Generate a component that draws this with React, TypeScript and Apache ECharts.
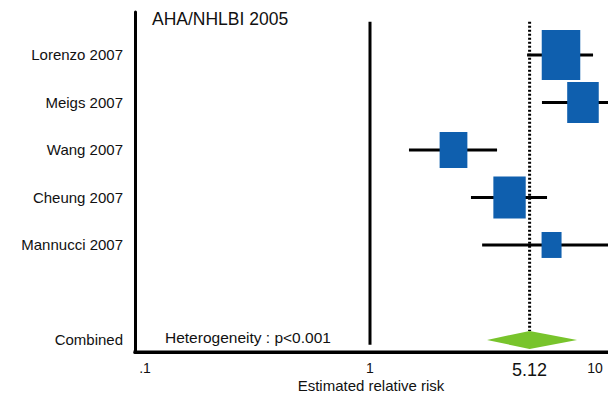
import React, { useEffect, useRef } from "react";
import * as echarts from "echarts";

const titleText = "AHA/NHLBI 2005";
const studies = ["Lorenzo 2007", "Meigs 2007", "Wang 2007", "Cheung 2007", "Mannucci 2007"];
const estimates = [7.06, 8.84, 2.35, 4.17, 6.41];
const lowerCI = [4.99, 5.81, 1.49, 2.81, 3.15];
const upperCI = [9.8, 13, 3.67, 6.12, 14];
const weights = [31.6, 21.2, 16.4, 22.3, 8.5];
const combinedLabel = "Combined";
const combinedEstimate = 5.12;
const combinedLower = 3.31;
const combinedUpper = 8.32;
const heterogeneityText = "Heterogeneity : p<0.001";
const xTickValues = [0.1, 1, 5.12, 10];
const xTickLabels = [".1", "1", "5.12", "10"];
const xAxisTitle = "Estimated relative risk";
const nullValue = 1;

const COMBINED_ROW = 6;
const FONT = "'Liberation Sans', Arial, sans-serif";

export default function App() {
  const ref = useRef<HTMLDivElement>(null);
  useEffect(() => {
    if (!ref.current) return;
    const chart = echarts.init(ref.current, null, { renderer: "svg" });
    const rowLabels: Record<number, string> = {};
    studies.forEach((s, i) => (rowLabels[i] = s));
    rowLabels[COMBINED_ROW] = combinedLabel;

    const studyData = studies.map((_, i) => [estimates[i], lowerCI[i], upperCI[i], weights[i], i]);

    const option: any = {
      animation: false,
      textStyle: { fontFamily: FONT },
      grid: { left: 135, right: 0, top: 12, bottom: 42 },
      xAxis: {
        type: "log",
        logBase: 10,
        min: 0.0903,
        max: 11.42,
        splitLine: { show: false },
        axisTick: { show: false },
        axisLine: { show: true, onZero: false, lineStyle: { color: "#000", width: 3 } },
        axisLabel: {
          customValues: xTickValues,
          margin: 9,
          color: "#111",
          fontSize: 14,
          fontFamily: FONT,
          formatter: (v: number) => {
            let best = 0;
            xTickValues.forEach((t, i) => {
              if (Math.abs(Math.log10(t) - Math.log10(v)) < Math.abs(Math.log10(xTickValues[best]) - Math.log10(v))) best = i;
            });
            if (xTickValues[best] === combinedEstimate) return `{big|${xTickLabels[best]}}`;
            return xTickLabels[best];
          },
          rich: {
            big: { fontSize: 18, color: "#111", fontFamily: FONT },
          },
        },
      },
      yAxis: {
        type: "value",
        inverse: true,
        min: -0.905,
        max: 6.253,
        splitLine: { show: false },
        axisTick: { show: false },
        axisLine: { show: true, lineStyle: { color: "#000", width: 3 } },
        axisLabel: {
          customValues: Object.keys(rowLabels).map(Number),
          formatter: (v: number) => rowLabels[Math.round(v)] || "",
          margin: 12,
          fontSize: 15,
          color: "#111",
          fontFamily: FONT,
        },
      },
      graphic: [
        {
          type: "rect",
          left: 133.5,
          top: 350.5,
          z: 100,
          shape: { width: 475, height: 3 },
          style: { fill: "#000" },
        },
        {
          type: "text",
          left: 152,
          top: 10,
          style: { text: titleText, fontSize: 17.5, fill: "#111", fontFamily: FONT },
        },
        {
          type: "text",
          left: 165,
          top: 329,
          style: { text: heterogeneityText, fontSize: 15.5, fill: "#111", fontFamily: FONT },
        },
        {
          type: "text",
          x: 371,
          y: 385,
          style: {
            text: xAxisTitle,
            fontSize: 15,
            fill: "#111",
            fontFamily: FONT,
            align: "center",
            verticalAlign: "middle",
          },
        },
      ],
      series: [
        {
          type: "custom",
          name: "reference",
          data: [[nullValue, 0], [combinedEstimate, 1]],
          encode: { x: 0 },
          renderItem: (params: any, api: any) => {
            const v = api.value(0);
            const dashed = api.value(1) === 1;
            const top = api.coord([v, -0.7]);
            const bottom = dashed
              ? [api.coord([v, COMBINED_ROW])[0], api.coord([v, COMBINED_ROW])[1] - 9]
              : api.coord([v, 6.1]);
            return {
              type: "line",
              shape: { x1: top[0], y1: top[1], x2: bottom[0], y2: bottom[1] },
              style: dashed
                ? { stroke: "#000", lineWidth: 3, lineDash: [2, 2] }
                : { stroke: "#000", lineWidth: 3 },
            };
          },
          z: 1,
        },
        {
          type: "custom",
          name: "studies",
          data: studyData,
          encode: { x: [0, 1, 2], y: 4 },
          renderItem: (params: any, api: any) => {
            const cs = params.coordSys;
            const row = api.value(4);
            const c = api.coord([api.value(0), row]);
            const lo = api.coord([api.value(1), row]);
            const hi = api.coord([api.value(2), row]);
            const h = 8.9 * Math.sqrt(api.value(3));
            const w = h * 0.77;
            const x1 = Math.max(lo[0], cs.x);
            const x2 = Math.min(hi[0], cs.x + cs.width);
            return {
              type: "group",
              children: [
                {
                  type: "line",
                  shape: { x1, y1: c[1], x2, y2: c[1] },
                  style: { stroke: "#000", lineWidth: 3 },
                },
                {
                  type: "rect",
                  shape: { x: c[0] - w / 2, y: c[1] - h / 2, width: w, height: h },
                  style: { fill: "#0f5fae" },
                },
              ],
            };
          },
          z: 2,
        },
        {
          type: "custom",
          name: "combined",
          data: [[combinedEstimate, combinedLower, combinedUpper, COMBINED_ROW]],
          encode: { x: [0, 1, 2], y: 3 },
          renderItem: (params: any, api: any) => {
            const row = api.value(3);
            const c = api.coord([api.value(0), row]);
            const lo = api.coord([api.value(1), row]);
            const hi = api.coord([api.value(2), row]);
            return {
              type: "polygon",
              shape: {
                points: [
                  [lo[0], c[1]],
                  [c[0], c[1] - 9],
                  [hi[0], c[1]],
                  [c[0], c[1] + 9],
                ],
              },
              style: { fill: "#78c42c" },
            };
          },
          z: 2,
        },
      ],
    };
    chart.setOption(option);
    return () => chart.dispose();
  }, []);
  return (
    <div
      ref={ref}
      style={{ position: "absolute", left: 0, top: 0, width: 608, height: 394, background: "#fff" }}
    />
  );
}
